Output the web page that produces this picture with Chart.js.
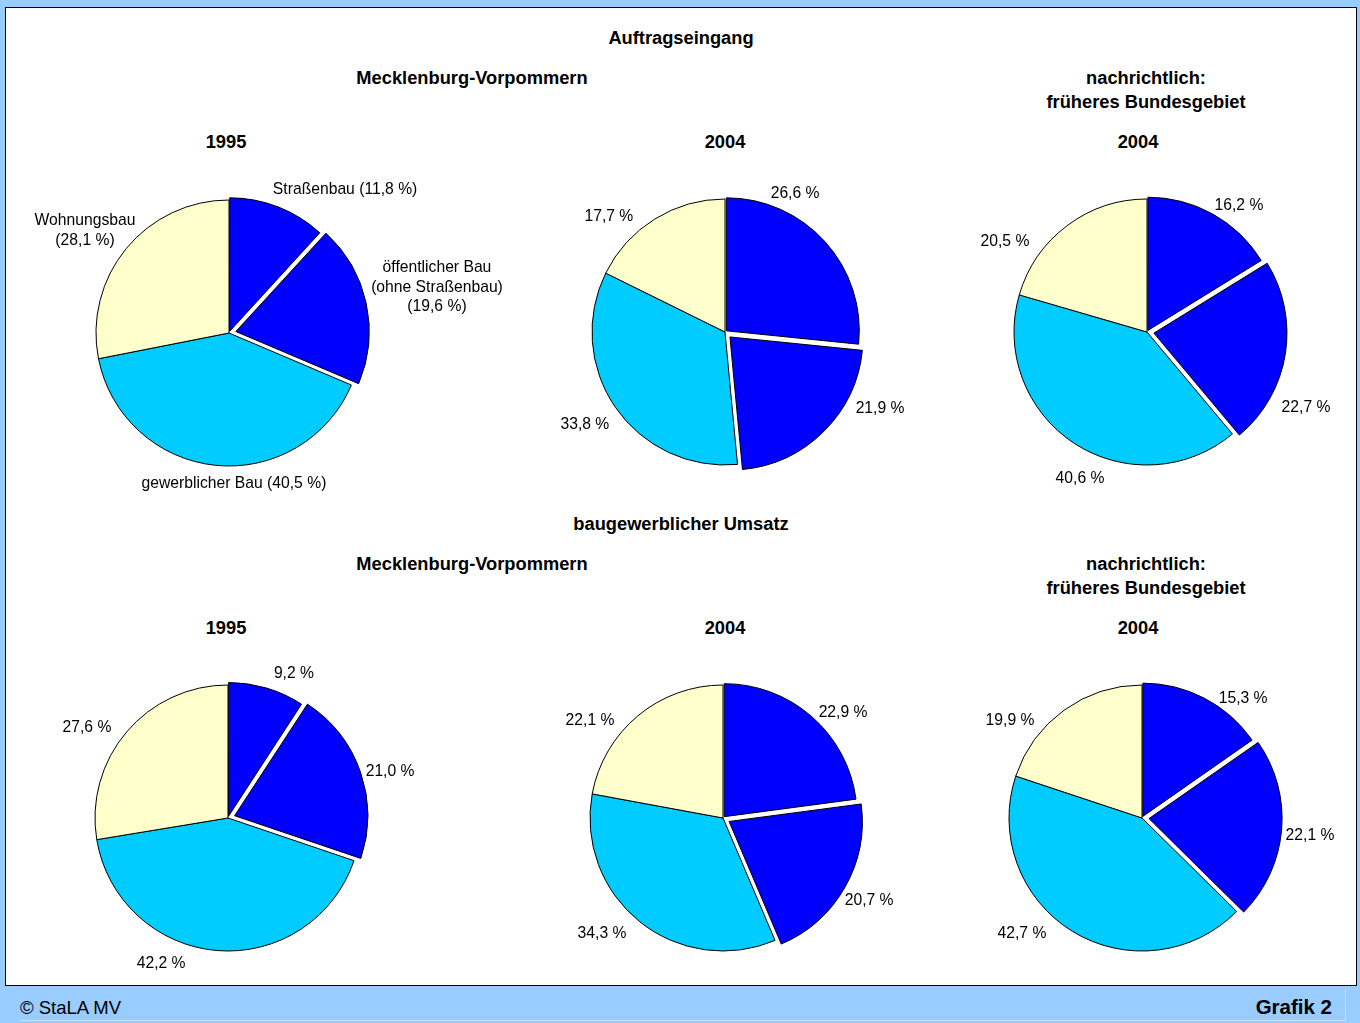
<!DOCTYPE html>
<html lang="de">
<head>
<meta charset="utf-8">
<title>Auftragseingang und baugewerblicher Umsatz</title>
<script src="https://cdn.jsdelivr.net/npm/chart.js@4.4.1/dist/chart.umd.min.js"></script>
<style>
  html, body { margin: 0; padding: 0; }
  body {
    width: 1360px; height: 1023px; position: relative; overflow: hidden;
    background: #99CCFF;
    font-family: Arial, "Liberation Sans", sans-serif;
  }
  #panel {
    position: absolute; left: 5px; top: 7px; width: 1352px; height: 979px;
    box-sizing: border-box; border: 1px solid #000; background: #fff;
  }
  .t {
    position: absolute; font-weight: bold; font-size: 18.3px; color: #000;
    white-space: nowrap; transform: translate(-50%, -50%); text-align: center; line-height: 24px;
  }
  canvas { position: absolute; }
  #footbox {
    position: absolute; left: 20px; top: 990px; width: 1326px; height: 31px;
    border-right: 1px solid #c4e1ff; border-bottom: 1px solid #c4e1ff; box-sizing: border-box;
  }
  #copy { position: absolute; left: 20px; top: 997px; font-size: 18.5px; color: #000; }
  #grafik { position: absolute; right: 28px; top: 995px; font-size: 20.5px; font-weight: bold; color: #000; }
</style>
</head>
<body>
<div id="panel"></div>

<div class="t" style="left:681px; top:38px;">Auftragseingang</div>
<div class="t" style="left:472px; top:78px;">Mecklenburg-Vorpommern</div>
<div class="t" style="left:1146px; top:90px;">nachrichtlich:<br>früheres Bundesgebiet</div>
<div class="t" style="left:226px; top:142px;">1995</div>
<div class="t" style="left:725px; top:142px;">2004</div>
<div class="t" style="left:1138px; top:142px;">2004</div>

<div class="t" style="left:681px; top:524px;">baugewerblicher Umsatz</div>
<div class="t" style="left:472px; top:564px;">Mecklenburg-Vorpommern</div>
<div class="t" style="left:1146px; top:576px;">nachrichtlich:<br>früheres Bundesgebiet</div>
<div class="t" style="left:226px; top:628px;">1995</div>
<div class="t" style="left:725px; top:628px;">2004</div>
<div class="t" style="left:1138px; top:628px;">2004</div>

<canvas id="a1995" width="680" height="340"></canvas>
<canvas id="a2004" width="680" height="340"></canvas>
<canvas id="aBG" width="680" height="340"></canvas>
<canvas id="u1995" width="680" height="340"></canvas>
<canvas id="u2004" width="680" height="340"></canvas>
<canvas id="uBG" width="680" height="340"></canvas>

<div id="footbox"></div>
<div id="copy">© StaLA MV</div>
<div id="grafik">Grafik 2</div>

<script>
// categories (clockwise from 12 o'clock)
const categories = ['Straßenbau', 'öffentlicher Bau (ohne Straßenbau)', 'gewerblicher Bau', 'Wohnungsbau'];

// Auftragseingang, shares in %
const auftragMV1995 = [11.8, 19.6, 40.5, 28.1];
const auftragMV2004 = [26.6, 21.9, 33.8, 17.7];
const auftragBG2004 = [16.2, 22.7, 40.6, 20.5];

// baugewerblicher Umsatz, shares in %
const umsatzMV1995 = [9.2, 21.0, 42.2, 27.6];
const umsatzMV2004 = [22.9, 20.7, 34.3, 22.1];
const umsatzBG2004 = [15.3, 22.1, 42.7, 19.9];

const sliceColors = ['#0000FF', '#0000FF', '#00CCFF', '#FFFFCC'];
// chart.js moves an arc by offset/4 px, so these give about 2 and 7 px
const sliceOffsets = [7, 28, 0, 0];
const RADIUS = 133;

function pct(v) {
  return v.toFixed(1).replace('.', ',') + ' %';
}

// label lines for the first chart carry the category names
function namedLabels(values) {
  return [
    [categories[0] + ' (' + pct(values[0]) + ')'],
    ['öffentlicher Bau', '(ohne Straßenbau)', '(' + pct(values[1]) + ')'],
    [categories[2] + ' (' + pct(values[2]) + ')'],
    [categories[3], '(' + pct(values[3]) + ')']
  ];
}
function plainLabels(values) {
  return values.map(v => [pct(v)]);
}

// draws the labels outside the pie: angle (deg, clockwise from top) and distance in radii
const sliceLabels = {
  id: 'sliceLabels',
  afterDatasetsDraw(chart, args, opts) {
    const ctx = chart.ctx;
    const meta = chart.getDatasetMeta(0);
    ctx.save();
    ctx.font = '15.7px Arial, "Liberation Sans", sans-serif';
    ctx.fillStyle = '#000';
    ctx.textAlign = 'center';
    ctx.textBaseline = 'middle';
    meta.data.forEach((arc, i) => {
      const lines = opts.texts[i];
      const a = opts.angles[i] * Math.PI / 180;
      const d = opts.dists[i] * arc.outerRadius;
      const x = arc.x + Math.sin(a) * d;
      const y = arc.y - Math.cos(a) * d + 1.5;
      const lh = 19.5;
      lines.forEach((line, k) => {
        ctx.fillText(line, x, y + (k - (lines.length - 1) / 2) * lh);
      });
    });
    ctx.restore();
  }
};

function makePie(id, cx, cy, values, texts, angles, dists) {
  const el = document.getElementById(id);
  el.style.left = (cx - el.width / 2) + 'px';
  el.style.top = (cy - el.height / 2) + 'px';
  return new Chart(el, {
    type: 'pie',
    data: {
      labels: categories,
      datasets: [{
        data: values,
        backgroundColor: sliceColors,
        borderColor: '#000',
        borderWidth: 1,
        offset: sliceOffsets
      }]
    },
    options: {
      responsive: false,
      animation: false,
      radius: RADIUS,
      layout: { padding: 0 },
      plugins: {
        legend: { display: false },
        tooltip: { enabled: false },
        sliceLabels: { texts: texts, angles: angles, dists: dists }
      }
    },
    plugins: [sliceLabels]
  });
}

makePie('a1995', 229, 333, auftragMV1995, namedLabels(auftragMV1995),
  [38.7, 77.3, 178.1, 305.8], [1.396, 1.603, 1.121, 1.335]);
makePie('a2004', 725, 332, auftragMV2004, plainLabels(auftragMV2004),
  [26.6, 115.8, 237.0, 315.2], [1.177, 1.295, 1.256, 1.239]);
makePie('aBG', 1147, 332, auftragBG2004, plainLabels(auftragBG2004),
  [35.7, 115.0, 204.8, 302.9], [1.185, 1.319, 1.201, 1.272]);

makePie('u1995', 228, 818, umsatzMV1995, plainLabels(umsatzMV1995),
  [24.3, 73.5, 204.9, 303.1], [1.205, 1.271, 1.194, 1.266]);
makePie('u2004', 723, 818, umsatzMV2004, plainLabels(umsatzMV2004),
  [48.3, 119.0, 226.7, 306.7], [1.209, 1.256, 1.250, 1.247]);
makePie('uBG', 1142, 818, umsatzBG2004, plainLabels(umsatzBG2004),
  [39.9, 95.4, 226.5, 306.9], [1.185, 1.269, 1.244, 1.241]);
</script>
</body>
</html>
